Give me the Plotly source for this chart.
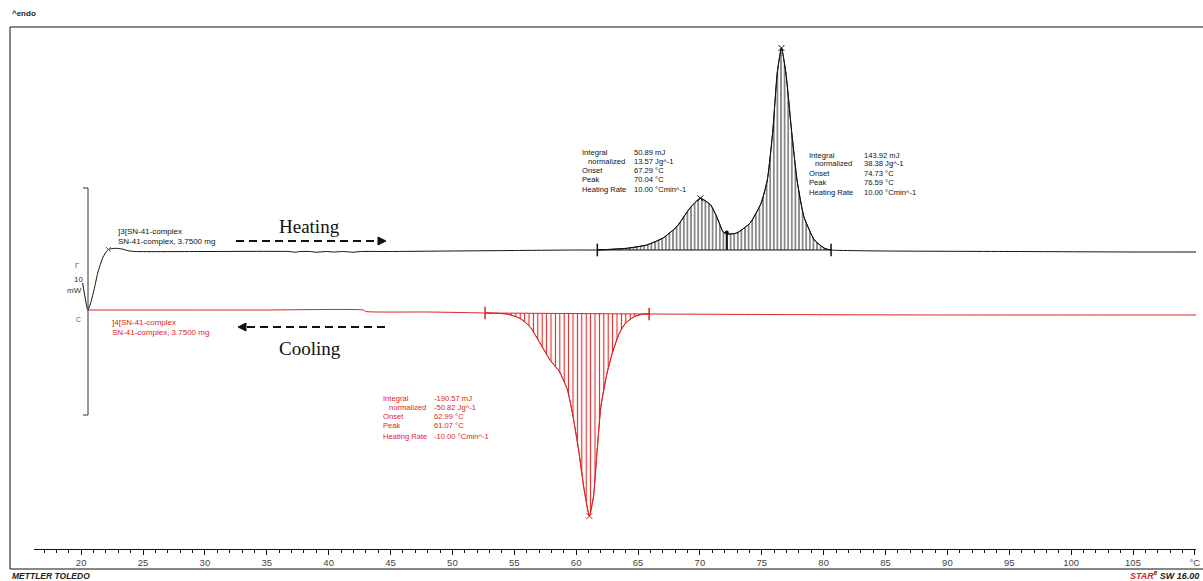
import plotly.graph_objects as go

W, H = 1203, 581

# ---- DSC data: heat flow (mW, endo up) vs temperature (°C) ----
# ]3[ heating run, 10 K/min
heat_T = [20.12, 20.31, 20.53, 20.72, 21.04, 21.36, 21.77, 22.20, 22.74, 23.30, 23.79, 24.35,
          30.0, 36.8, 37.3, 37.7, 38.5, 39.0, 39.8, 40.4, 41.2, 42.0, 42.6, 45.0, 50.0, 55.0, 60.0,
          61.71, 64.09, 65.70, 67.02, 68.13, 69.20, 70.04, 70.87, 71.36, 71.87, 72.17, 72.98,
          74.06, 74.95, 75.45, 75.90, 76.25, 76.59, 76.95, 77.40, 77.85, 78.40, 79.25, 80.10, 80.60,
          85.0, 95.0, 105.0, 110.1]
heat_mW = [6.0, 3.2, 0.6, 1.6, 4.6, 8.2, 11.2, 12.7, 12.94, 12.8, 12.46, 12.3,
           12.3, 12.3, 12.15, 12.3, 12.3, 12.15, 12.3, 12.2, 12.3, 12.15, 12.3, 12.3, 12.4, 12.5, 12.6,
           12.6, 12.94, 13.6, 15.0, 17.26, 21.0, 22.94, 21.6, 19.26, 16.26, 15.8, 16.0,
           18.0, 22.0, 26.6, 36.6, 48.0, 53.0, 48.0, 36.6, 26.6, 19.3, 14.6, 12.9, 12.6,
           12.4, 12.3, 12.2, 12.2]

# ]4[ cooling run, -10 K/min
cool_T = [20.53, 25.0, 30.0, 35.0, 42.8, 43.0, 48.0, 52.64, 54.39, 55.46, 56.27, 57.08, 57.89,
          58.65, 59.30, 59.75, 60.20, 60.65, 61.07, 61.40, 61.70, 62.00, 62.50, 63.00, 63.50,
          64.00, 64.70, 65.43, 65.90, 75.0, 90.0, 110.1]
cool_mW = [0.6, 0.6, 0.6, 0.6, 0.6, 0.3, 0.2, 0.0, -0.2, -1.06, -2.74, -6.0, -9.4,
           -11.74, -15.4, -20.74, -27.4, -35.4, -40.6, -36.7, -27.4, -18.7, -12.0, -7.4, -4.0,
           -2.0, -0.74, -0.2, -0.2, -0.3, -0.4, -0.4]

# integration limits and peak evaluation results
heat_limits = [61.71, 80.60]
heat_split = 72.17
cool_limits = [52.64, 65.90]
start_T = 22.20

tbl_labels = ["Integral", "normalized", "Onset", "Peak", "Heating Rate"]
heat1_values = ["50.89 mJ", "13.57 Jg^-1", "67.29 °C", "70.04 °C", "10.00 °Cmin^-1"]
heat2_values = ["143.92 mJ", "38.38 Jg^-1", "74.73 °C", "76.59 °C", "10.00 °Cmin^-1"]
cool_values = ["-190.57 mJ", "-50.82 Jg^-1", "62.99 °C", "61.07 °C", "-10.00 °Cmin^-1"]
heat_peaks = [70.04, 76.59]
cool_peak = 61.07

x_ticks = list(range(20, 115, 5))
x_ticktext = [str(t) for t in x_ticks[:-1]] + ["°C"]

BLACK = "#111111"
RED = "#dd2424"
FONT = "Liberation Sans"


def px(x, y):
    """page pixel -> paper fraction (margins are zero)"""
    return x / W, 1 - y / H


def value_at(ts, vs, t):
    return vs[ts.index(t)]


def window(ts, vs, lo, hi):
    pts = [(t, v) for t, v in zip(ts, vs) if lo <= t <= hi]
    return [p[0] for p in pts], [p[1] for p in pts]


fig = go.Figure()

# hatched integral areas
for ts, vs, lim, col, size in [(heat_T, heat_mW, heat_limits, BLACK, 3.6),
                               (cool_T, cool_mW, cool_limits, RED, 4.4)]:
    bx = [lim[0], lim[1]]
    by = [value_at(ts, vs, lim[0]), value_at(ts, vs, lim[1])]
    fig.add_trace(go.Scatter(x=bx, y=by, mode="lines", line=dict(color=col, width=1),
                             showlegend=False, hoverinfo="skip"))
    wx, wy = window(ts, vs, lim[0], lim[1])
    fig.add_trace(go.Scatter(x=wx, y=wy, mode="lines", fill="tonexty",
                             fillcolor="rgba(0,0,0,0)",
                             fillpattern=dict(shape="|", size=size, solidity=0.25,
                                              fgcolor=col, bgcolor="rgba(0,0,0,0)"),
                             line=dict(color=col, width=1, shape="spline", smoothing=0.5),
                             showlegend=False, hoverinfo="skip"))

# split line between the two heating integrals
split_base = value_at(heat_T, heat_mW, heat_limits[0])
split_top = value_at(heat_T, heat_mW, heat_split)
fig.add_trace(go.Scatter(x=[heat_split, heat_split], y=[split_base, split_top], mode="lines",
                         line=dict(color=BLACK, width=2), showlegend=False, hoverinfo="skip"))
fig.add_trace(go.Scatter(x=[heat_split], y=[split_top + 0.3], mode="markers",
                         marker=dict(symbol="circle", size=4, color=BLACK),
                         showlegend=False, hoverinfo="skip"))

# curves
fig.add_trace(go.Scatter(x=heat_T, y=heat_mW, mode="lines", name="]3[SN-41-complex",
                         line=dict(color=BLACK, width=1, shape="spline", smoothing=0.5),
                         showlegend=False))
fig.add_trace(go.Scatter(x=cool_T, y=cool_mW, mode="lines", name="]4[SN-41-complex",
                         line=dict(color=RED, width=1, shape="spline", smoothing=0.5),
                         showlegend=False))

# peak markers
fig.add_trace(go.Scatter(x=heat_peaks, y=[value_at(heat_T, heat_mW, t) for t in heat_peaks],
                         mode="markers", marker=dict(symbol="x-thin", size=6,
                                                     line=dict(color=BLACK, width=1)),
                         showlegend=False, hoverinfo="skip"))
fig.add_trace(go.Scatter(x=[cool_peak], y=[value_at(cool_T, cool_mW, cool_peak)],
                         mode="markers", marker=dict(symbol="x-thin", size=6,
                                                     line=dict(color=RED, width=1)),
                         showlegend=False, hoverinfo="skip"))
fig.add_trace(go.Scatter(x=[start_T], y=[value_at(heat_T, heat_mW, start_T)],
                         mode="markers", marker=dict(symbol="x-thin", size=5,
                                                     line=dict(color=RED, width=1)),
                         showlegend=False, hoverinfo="skip"))

# integration limit brackets
fig.add_trace(go.Scatter(x=heat_limits, y=[value_at(heat_T, heat_mW, t) for t in heat_limits],
                         mode="markers", marker=dict(symbol="line-ns", size=9,
                                                     line=dict(color=BLACK, width=1.5)),
                         showlegend=False, hoverinfo="skip"))
fig.add_trace(go.Scatter(x=cool_limits, y=[value_at(cool_T, cool_mW, t) for t in cool_limits],
                         mode="markers", marker=dict(symbol="line-ns", size=9,
                                                     line=dict(color=RED, width=1.5)),
                         showlegend=False, hoverinfo="skip"))

shapes = []
annotations = []

# outer frame
x0, y0 = px(10, 569)
x1, y1 = px(1210, 27)
shapes.append(dict(type="rect", xref="paper", yref="paper", x0=x0, y0=y0, x1=x1, y1=y1,
                   line=dict(color=BLACK, width=1)))

# heat-flow scale bar
for (ax, ay, bx_, by_) in [(88, 188, 88, 415), (83, 188, 88, 188), (83, 415, 88, 415)]:
    a = px(ax, ay)
    b = px(bx_, by_)
    shapes.append(dict(type="line", xref="paper", yref="paper", x0=a[0], y0=a[1], x1=b[0], y1=b[1],
                       line=dict(color="#333333", width=1)))


def path(points):
    parts = []
    for i, (x, y) in enumerate(points):
        fx, fy = px(x, y)
        parts.append(("M" if i == 0 else "L") + f"{fx:.5f},{fy:.5f}")
    return " ".join(parts) + " Z"


# heating / cooling direction arrows
for (xa, xb, y, head) in [(236, 378, 241, [(378, 237), (386, 241), (378, 245)]),
                          (385, 246, 327, [(246, 323), (238, 327), (246, 331)])]:
    a = px(xa, y)
    b = px(xb, y)
    shapes.append(dict(type="line", xref="paper", yref="paper", x0=a[0], y0=a[1], x1=b[0], y1=b[1],
                       line=dict(color=BLACK, width=2, dash="8px,5px")))
    shapes.append(dict(type="path", xref="paper", yref="paper", path=path(head),
                       fillcolor=BLACK, line=dict(color=BLACK, width=1)))


def text(x, y, s, size=8, color=BLACK, family=FONT, xanchor="left"):
    fx, fy = px(x, y)
    annotations.append(dict(x=fx, y=fy, xref="paper", yref="paper", text=s, showarrow=False,
                            xanchor=xanchor, yanchor="middle",
                            font=dict(family=family, size=size, color=color)))


text(10, 14, "<b>^endo</b>", size=8, color="#222222")
text(10, 576, "<b><i>METTLER TOLEDO</i></b>", size=8.5, color="#222222")
text(1201, 575, f"<b><i><span style='color:{RED}'>STAR</span><sup>e</sup> SW 16.00</i></b>",
     size=9, color="#222222", xanchor="right")

# scale-bar label
text(78, 279, "10", size=8, color="#333333", xanchor="center")
text(74, 290, "mW", size=8, color="#333333", xanchor="center")
text(77, 266, "Γ", size=8, color=RED, xanchor="center")
text(78, 319, "C", size=7, color=RED, xanchor="center")

# curve labels
text(116, 231, "]3[SN-41-complex", size=8)
text(116, 241, "SN-41-complex, 3.7500 mg", size=8)
text(110, 322, "]4[SN-41-complex", size=8, color=RED)
text(110, 332, "SN-41-complex, 3.7500 mg", size=8, color=RED)

text(309, 226, "Heating", size=19, family="Liberation Serif", xanchor="center")
text(310, 348, "Cooling", size=19, family="Liberation Serif", xanchor="center")

# evaluation tables
for (lx, vx, ys, vals, col) in [
        (580, 632, [152, 161, 170, 179.5, 189], heat1_values, BLACK),
        (807, 862, [155, 164, 173, 182.5, 192], heat2_values, BLACK),
        (381, 432, [398, 407, 416.5, 426, 436], cool_values, RED)]:
    for i, (lab, val) in enumerate(zip(tbl_labels, vals)):
        text(lx + (6 if lab == "normalized" else 0), ys[i], lab, size=7.6, color=col)
        text(vx, ys[i], val, size=7.6, color=col)

fig.update_layout(
    width=W, height=H,
    margin=dict(l=0, r=0, t=0, b=0),
    paper_bgcolor="white", plot_bgcolor="white",
    template="none",
    showlegend=False,
    shapes=shapes,
    annotations=annotations,
    xaxis=dict(domain=[34 / W, 1196 / W], range=[16.19, 110.09], automargin=False,
               showgrid=False, zeroline=False, showline=True, linecolor=BLACK, linewidth=1,
               tickmode="array", tickvals=x_ticks, ticktext=x_ticktext,
               ticks="outside", ticklen=5, tickcolor=BLACK,
               minor=dict(dtick=1, tick0=0, ticks="outside", ticklen=3, tickcolor=BLACK),
               tickfont=dict(family=FONT, size=9.5, color="#444444")),
    yaxis=dict(domain=[1 - 549 / H, 1 - 27 / H], range=[-47.2, 57.2], visible=False,
               automargin=False, showgrid=False, zeroline=False),
)

fig.write_html("out.html")
